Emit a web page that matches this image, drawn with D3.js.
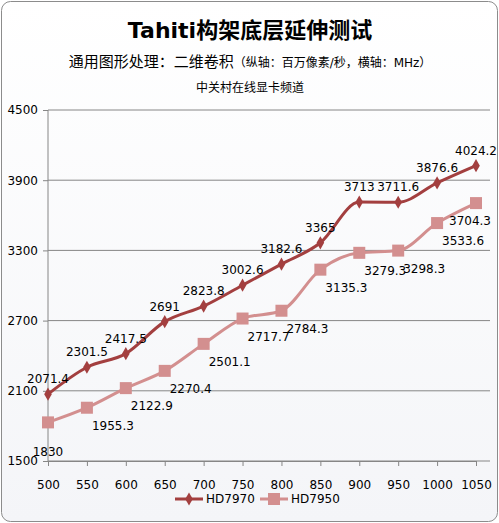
<!DOCTYPE html>
<html><head><meta charset="utf-8">
<script src="https://cdn.jsdelivr.net/npm/d3@7"></script>
<style>body{margin:0;background:#fff;font-family:"DejaVu Sans","Noto Sans CJK SC",sans-serif;}</style>
</head><body>
<script>
var freqs = [500, 550, 600, 650, 700, 750, 800, 850, 900, 950, 1000, 1050];
var hd7970 = [2071.4, 2301.5, 2417.5, 2691, 2823.8, 3002.6, 3182.6, 3365, 3713, 3711.6, 3876.6, 4024.2];
var hd7950 = [1830, 1955.3, 2122.9, 2270.4, 2501.1, 2717.7, 2784.3, 3135.3, 3279.3, 3298.3, 3533.6, 3704.3];
var yTicks = [1500, 2100, 2700, 3300, 3900, 4500];

var svg = d3.select('body').append('svg').attr('width', 499).attr('height', 523);
var grad = svg.append('defs').append('linearGradient').attr('id', 'bg').attr('x1', 0).attr('y1', 0).attr('x2', 0).attr('y2', 1);
grad.append('stop').attr('offset', 0).attr('stop-color', '#ffffff');
grad.append('stop').attr('offset', 1).attr('stop-color', '#f4f5f8');
svg.append('rect').attr('x', 1.5).attr('y', 1.5).attr('width', 496).attr('height', 520).attr('rx', 9)
  .attr('fill', 'url(#bg)').attr('stroke', '#8c8c8c');

svg.append('text').attr('x', 250).attr('y', 38).attr('text-anchor', 'middle')
  .attr('font-size', 22).attr('font-weight', 'bold').text('Tahiti构架底层延伸测试');
var sub = svg.append('text').attr('x', 250).attr('y', 67).attr('text-anchor', 'middle').attr('font-size', 15);
sub.append('tspan').text('通用图形处理：二维卷积');
sub.append('tspan').attr('font-size', 12).text('（纵轴：百万像素/秒，横轴：MHz）');
svg.append('text').attr('x', 250).attr('y', 92).attr('text-anchor', 'middle').attr('font-size', 12).text('中关村在线显卡频道');

var x = d3.scalePoint().domain(freqs).range([48, 476]);
var y = d3.scaleLinear().domain([1500, 4500]).range([461, 110]);

svg.append('g').selectAll('line').data(yTicks).join('line')
  .attr('x1', 48).attr('x2', 490).attr('y1', function(d) { return y(d); }).attr('y2', function(d) { return y(d); })
  .attr('stroke', '#868686');
svg.append('line').attr('x1', 48).attr('x2', 48).attr('y1', 110).attr('y2', 461).attr('stroke', '#868686');

var gy = svg.append('g').attr('transform', 'translate(48,0)')
  .call(d3.axisLeft(y).tickValues(yTicks).tickSize(5).tickFormat(d3.format('d')));
gy.select('.domain').remove();
gy.selectAll('line').attr('stroke', '#868686');
gy.selectAll('text').attr('font-size', 12).attr('x', -10).attr('font-family', 'DejaVu Sans');

var gx = svg.append('g').attr('transform', 'translate(0,461)')
  .call(d3.axisBottom(x).tickSize(5).tickPadding(14));
gx.select('.domain').attr('stroke', '#868686');
gx.selectAll('line').attr('stroke', '#868686');
gx.selectAll('text').attr('font-size', 12).attr('font-family', 'DejaVu Sans');

var line = d3.line().x(function(d, i) { return x(freqs[i]); }).y(function(d) { return y(d); }).curve(d3.curveMonotoneX);

function series(vals, color, marker, dx, dy) {
  svg.append('path').datum(vals).attr('d', line).attr('fill', 'none').attr('stroke', color).attr('stroke-width', 3);
  var g = svg.append('g');
  if (marker === 'diamond') {
    g.selectAll('path').data(vals).join('path')
      .attr('d', d3.symbol(d3.symbolDiamond, 50)())
      .attr('transform', function(d, i) { return 'translate(' + x(freqs[i]) + ',' + y(d) + ')'; })
      .attr('fill', color);
  } else {
    g.selectAll('rect').data(vals).join('rect')
      .attr('x', function(d, i) { return x(freqs[i]) - 6; }).attr('y', function(d) { return y(d) - 6; })
      .attr('width', 12).attr('height', 12).attr('fill', color);
  }
  var last = vals.length - 1;
  svg.append('g').selectAll('text').data(vals).join('text')
    .attr('x', function(d, i) {
      if (dx > 0 && i === 0) return x(freqs[i]);
      if (dx > 0 && i === last) return x(freqs[i]) - 6;
      return x(freqs[i]) + dx;
    })
    .attr('y', function(d, i) { return y(d) + (i === 0 && dx > 0 ? dy + 12 : dy); })
    .attr('text-anchor', 'middle').attr('font-size', 12).attr('font-family', 'DejaVu Sans')
    .text(function(d) { return d; });
}
series(hd7970, '#a33f3f', 'diamond', 0, -11);
series(hd7950, '#d38f8f', 'square', 26, 22);

var leg = [['HD7970', '#a33f3f', 'diamond', 175], ['HD7950', '#d38f8f', 'square', 260]];
leg.forEach(function(l) {
  svg.append('line').attr('x1', l[3]).attr('x2', l[3] + 28).attr('y1', 499).attr('y2', 499).attr('stroke', l[1]).attr('stroke-width', 3);
  if (l[2] === 'diamond') {
    svg.append('path').attr('d', d3.symbol(d3.symbolDiamond, 50)()).attr('transform', 'translate(' + (l[3] + 14) + ',499)').attr('fill', l[1]);
  } else {
    svg.append('rect').attr('x', l[3] + 8).attr('y', 493).attr('width', 12).attr('height', 12).attr('fill', l[1]);
  }
  svg.append('text').attr('x', l[3] + 31).attr('y', 503).attr('font-size', 12).attr('font-family', 'DejaVu Sans').text(l[0]);
});
</script>
</body></html>
